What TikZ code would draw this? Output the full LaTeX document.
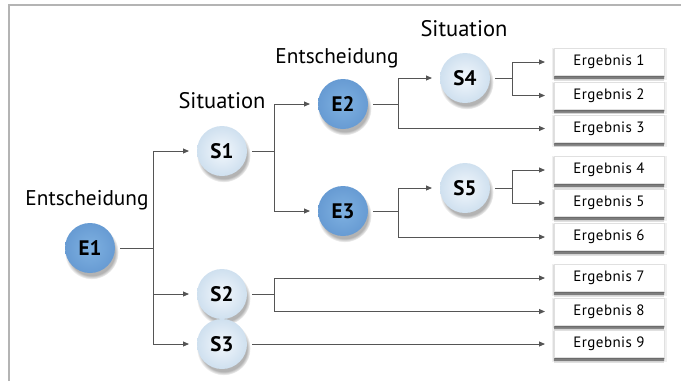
\documentclass[tikz,border=0pt]{standalone}
\usepackage{fontspec}
\setmainfont{PT Sans}
\usetikzlibrary{shadows,arrows.meta}
\definecolor{edark}{HTML}{679BD3}
\definecolor{elight}{HTML}{7FB1E1}
\definecolor{sdark}{HTML}{CFE0EF}
\definecolor{slight}{HTML}{F2F7FC}
\definecolor{linec}{HTML}{555555}
\definecolor{framec}{HTML}{B4B4B4}
\tikzset{
  x=1pt, y=-1pt,
  knot/.style={circle, minimum size=50pt, inner sep=0pt, outer sep=5pt,
    font=\fontsize{21}{21}\selectfont\bfseries,
    circular drop shadow={shadow xshift=1.5pt, shadow yshift=-4pt, shadow scale=1.08, opacity=0.6}},
  enode/.style={knot, shading=radial, inner color=elight, outer color=edark},
  snode/.style={knot, shading=radial, inner color=slight, outer color=sdark},
  result/.style={draw=black!12, fill=white, minimum width=110pt, minimum height=27pt,
    inner sep=0pt, outer sep=6pt,
    font=\fontsize{15}{15}\selectfont\addfontfeatures{LetterSpace=3},
    preaction={draw=black, draw opacity=0.06, line width=5pt, transform canvas={yshift=-2pt}},
    preaction={draw=black, draw opacity=0.08, line width=2.5pt, transform canvas={yshift=-2pt}},
    preaction={fill=black, opacity=0.12, transform canvas={yshift=-5pt}},
    preaction={fill=black, opacity=0.35, transform canvas={yshift=-3.5pt}},
    preaction={fill=black, opacity=0.15, transform canvas={yshift=-1.5pt, xshift=1pt}}},
  heading/.style={inner sep=0pt},
  conn/.style={draw=linec, line width=0.9pt},
  arr/.style={conn, -{Triangle[length=6pt,width=5pt]}, shorten >=3pt}
}
\begin{document}
\begin{tikzpicture}
\useasboundingbox (0,0) rectangle (681,381);
% frame
\draw[framec, line width=1.2pt] (9,381) -- (9,5) -- (681,5);

% headings
\node[heading, font=\fontsize{21.3}{21}\selectfont] (h1) at (87,200) {Entscheidung};
\node[heading, font=\fontsize{22.5}{22}\selectfont] (h2) at (222,101) {Situation};
\node[heading, font=\fontsize{21.3}{21}\selectfont] (h3) at (337,58) {Entscheidung};
\node[heading, font=\fontsize{22.5}{22}\selectfont] (h4) at (464,29) {Situation};

% nodes
\node[enode] (E1) at (90,248) {E1};
\node[snode] (S1) at (222,151) {S1};
\node[snode] (S2) at (222,294) {S2};
\node[snode] (S3) at (222,344) {S3};
\node[enode] (E2) at (343,104) {E2};
\node[enode] (E3) at (343,211) {E3};
\node[snode] (S4) at (465,78) {S4};
\node[snode] (S5) at (465,188) {S5};

\node[result] (R1) at (609,62) {Ergebnis 1};
\node[result] (R2) at (609,95.5) {Ergebnis 2};
\node[result] (R3) at (609,128.5) {Ergebnis 3};
\node[result] (R4) at (609,170) {Ergebnis 4};
\node[result] (R5) at (609,203) {Ergebnis 5};
\node[result] (R6) at (609,237) {Ergebnis 6};
\node[result] (R7) at (609,278) {Ergebnis 7};
\node[result] (R8) at (609,311.5) {Ergebnis 8};
\node[result] (R9) at (609,344) {Ergebnis 9};

% junctions
\coordinate (j1) at (153,248);
\coordinate (j2) at (274.5,151);
\coordinate (j3) at (398,104);
\coordinate (j4) at (398,211);
\coordinate (j5) at (512.5,78);
\coordinate (j6) at (512.5,188);
\coordinate (j7) at (274.5,294);

% connectors
\draw[conn] (E1) -- (j1);
\draw[arr] (j1) |- (S1);
\draw[arr] (j1) |- (S2);
\draw[arr] (j1) |- (S3);

\draw[conn] (S1) -- (j2);
\draw[arr] (j2) |- (E2);
\draw[arr] (j2) |- (E3);

\draw[conn] (E2) -- (j3);
\draw[arr] (j3) |- (S4);
\draw[arr] (j3) |- (R3);

\draw[conn] (E3) -- (j4);
\draw[arr] (j4) |- (S5);
\draw[arr] (j4) |- (R6);

\draw[conn] (S4) -- (j5);
\draw[arr] (j5) |- (R1);
\draw[arr] (j5) |- (R2);

\draw[conn] (S5) -- (j6);
\draw[arr] (j6) |- (R4);
\draw[arr] (j6) |- (R5);

\draw[conn] (S2) -- (j7);
\draw[arr] (j7) |- (R7);
\draw[arr] (j7) |- (R8);

\draw[arr] (S3) -- (R9);
\end{tikzpicture}
\end{document}
